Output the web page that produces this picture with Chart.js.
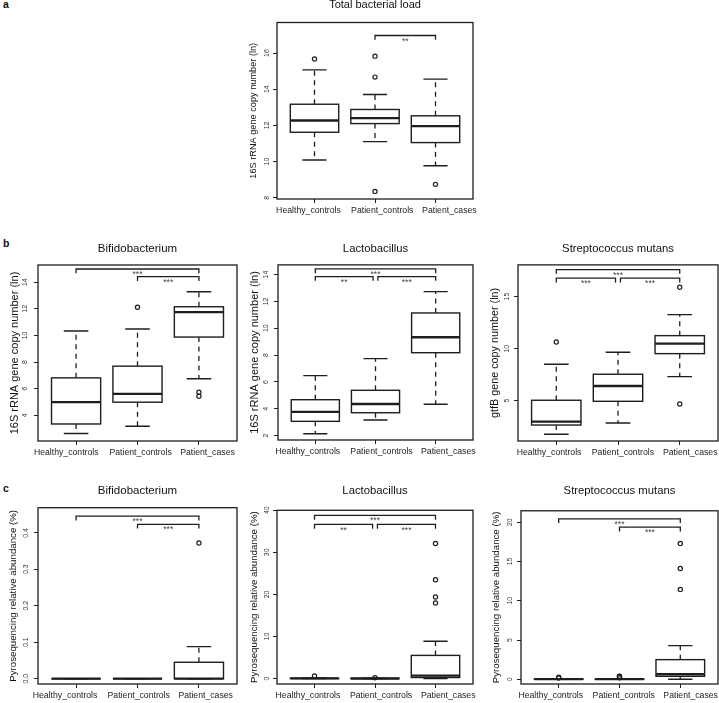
<!DOCTYPE html>
<html><head><meta charset="utf-8">
<script src="https://cdn.jsdelivr.net/npm/chart.js@4.4.1/dist/chart.umd.min.js"></script>
<style>
html,body{margin:0;padding:0;background:#fff;width:719px;height:703px;overflow:hidden;position:relative;font-family:'Liberation Sans',Arial,sans-serif;}
.panel{position:absolute;}
.letter{position:absolute;font-weight:bold;font-size:10.5px;line-height:10.5px;color:#111;}
</style></head><body>
<div class="letter" style="left:3px;top:-1px">a</div>
<div class="letter" style="left:3px;top:238px">b</div>
<div class="letter" style="left:3px;top:483px">c</div>
<script>
const categories = ['Healthy_controls', 'Patient_controls', 'Patient_cases'];

// Each row: [lower whisker, Q1, median, Q3, upper whisker]
const totalLoadBoxes = [[10.09, 11.62, 12.27, 13.17, 15.07], [11.10, 12.10, 12.40, 12.88, 13.71], [9.77, 11.05, 11.96, 12.53, 14.56]];
const totalLoadOutliers = [[15.67], [15.83, 14.67, 8.35], [8.74]];
const totalLoadTicks = [8, 10, 12, 14, 16];
const totalLoadSig = [[2, 3, 16.97, '**']];

const bifidoQpcrBoxes = [[2.62, 3.34, 4.98, 6.81, 10.33], [3.17, 4.98, 5.61, 7.69, 10.48], [6.74, 9.88, 11.76, 12.16, 13.29]];
const bifidoQpcrOutliers = [[], [12.12], [5.43, 5.73]];
const bifidoQpcrTicks = [4, 6, 8, 10, 12, 14];
const bifidoQpcrSig = [[1, 3, 15.0, '***'], [2, 3, 14.42, '***']];

const lactoQpcrBoxes = [[2.15, 3.07, 3.77, 4.68, 6.47], [3.17, 3.71, 4.36, 5.38, 7.74], [4.34, 8.18, 9.33, 11.14, 12.73]];
const lactoQpcrOutliers = [[], [], []];
const lactoQpcrTicks = [2, 4, 6, 8, 10, 12, 14];
const lactoQpcrSig = [[1, 3, 14.42, '***'], [1, 1.96, 13.85, '**'], [2.04, 3, 13.85, '***']];

const strepQpcrBoxes = [[1.77, 2.66, 2.98, 5.04, 8.5], [2.86, 4.94, 6.41, 7.54, 9.65], [7.31, 9.52, 10.48, 11.25, 13.27]];
const strepQpcrOutliers = [[10.64], [], [15.9, 4.68]];
const strepQpcrTicks = [5, 10, 15];
const strepQpcrSig = [[1, 3, 17.6, '***'], [1, 1.96, 16.77, '***'], [2.04, 3, 16.77, '***']];

const bifidoPyroBoxes = [[0, 0, 0, 0, 0], [0, 0, 0, 0, 0], [0, 0, 0, 0.045, 0.088]];
const bifidoPyroOutliers = [[], [], [0.372]];
const bifidoPyroTicks = [0, 0.1, 0.2, 0.3, 0.4];
const bifidoPyroSig = [[1, 3, 0.446, '***'], [2, 3, 0.4235, '***']];

const lactoPyroBoxes = [[0, 0, 0.02, 0.06, 0.15], [0, 0, 0.01, 0.03, 0.08], [0, 0.24, 0.7, 5.5, 8.86]];
const lactoPyroOutliers = [[0.6], [0.2], [32.1, 23.5, 19.4, 17.96]];
const lactoPyroTicks = [0, 10, 20, 30, 40];
const lactoPyroSig = [[1, 3, 38.8, '***'], [1, 1.96, 36.65, '**'], [2.04, 3, 36.65, '***']];

const strepPyroBoxes = [[0, 0, 0.01, 0.03, 0.07], [0, 0, 0.01, 0.03, 0.08], [0, 0.38, 0.64, 2.5, 4.29]];
const strepPyroOutliers = [[0.15, 0.25], [0.2, 0.35, 0.4], [17.3, 14.1, 11.44]];
const strepPyroTicks = [0, 5, 10, 15, 20];
const strepPyroSig = [[1, 3, 20.43, '***'], [2, 3, 19.36, '***']];

const FONT = "'Liberation Sans', Arial, sans-serif";
const INK = '#1e1e1e';
const YW = 40, XTICK = 4, XLAB = 22, PR = 30;
const Y16 = '16S rRNA gene copy number (ln)';
const PYRO = 'Pyrosequencing relative abundance (%)';

const panels = [
  {boxes: totalLoadBoxes, out: totalLoadOutliers, ticks: totalLoadTicks, sig: totalLoadSig, yMin: 7.93, yMax: 17.69,
   L: 277.3, R: 473.3, T: 22.7, B: 199, title: 'Total bacterial load', titleMid: 4.8, titleSize: 11,
   yTitle: Y16, yTitleSize: 9.2, yTitleOff: 24, yTickOff: 10.3, labelPos: [0.90, 2.12, 3.23], dec: 0},
  {boxes: bifidoQpcrBoxes, out: bifidoQpcrOutliers, ticks: bifidoQpcrTicks, sig: bifidoQpcrSig, yMin: 2.06, yMax: 15.30,
   L: 38.3, R: 237.3, T: 265, B: 440.7, title: 'Bifidobacterium', titleMid: 248.9, titleSize: 11.5,
   yTitle: Y16, yTitleSize: 11, yTitleOff: 23.3, yTickOff: 12.5, labelPos: [0.84, 2.05, 3.14], dec: 0},
  {boxes: lactoQpcrBoxes, out: lactoQpcrOutliers, ticks: lactoQpcrTicks, sig: lactoQpcrSig, yMin: 1.68, yMax: 14.72,
   L: 277.7, R: 473, T: 265, B: 440, title: 'Lactobacillus', titleMid: 248.9, titleSize: 11.3,
   yTitle: Y16, yTitleSize: 11, yTitleOff: 23.4, yTickOff: 12, labelPos: [0.876, 2.10, 3.21], dec: 0},
  {boxes: strepQpcrBoxes, out: strepQpcrOutliers, ticks: strepQpcrTicks, sig: strepQpcrSig, yMin: 1.125, yMax: 18.05,
   L: 517.7, R: 717.7, T: 265, B: 441, title: 'Streptococcus mutans', titleMid: 248.9, titleSize: 11.3,
   yTitle: 'gtfB gene copy number (ln)', yTitleSize: 10.8, yTitleOff: 22.7, yTickOff: 11, labelPos: [0.884, 2.08, 3.17], dec: 0},
  {boxes: bifidoPyroBoxes, out: bifidoPyroOutliers, ticks: bifidoPyroTicks, sig: bifidoPyroSig, yMin: -0.0146, yMax: 0.469,
   L: 38.3, R: 237.3, T: 507.3, B: 683.3, title: 'Bifidobacterium', titleMid: 490.5, titleSize: 11.5,
   yTitle: PYRO, yTitleSize: 9.7, yTitleOff: 24.3, yTickOff: 11.6, labelPos: [0.82, 2.02, 3.11], dec: 1},
  {boxes: lactoPyroBoxes, out: lactoPyroOutliers, ticks: lactoPyroTicks, sig: lactoPyroSig, yMin: -1.3, yMax: 40.0,
   L: 277, R: 472.5, T: 510, B: 684, title: 'Lactobacillus', titleMid: 490.5, titleSize: 11.3,
   yTitle: PYRO, yTitleSize: 9.7, yTitleOff: 22.5, yTickOff: 9.6, labelPos: [0.891, 2.10, 3.21], dec: 0},
  {boxes: strepPyroBoxes, out: strepPyroOutliers, ticks: strepPyroTicks, sig: strepPyroSig, yMin: -0.6, yMax: 21.45,
   L: 521, R: 717.7, T: 510.5, B: 684, title: 'Streptococcus mutans', titleMid: 490.5, titleSize: 11.3,
   yTitle: PYRO, yTitleSize: 9.7, yTitleOff: 24.3, yTickOff: 11, labelPos: [0.869, 2.07, 3.17], dec: 0}
];

const measureCtx = document.createElement('canvas').getContext('2d');
const TICK_SIZE = 6.9;

function boxPlugin(cfg) {
  return {
    id: 'boxPlot',
    beforeDatasetsDraw(chart) {
      const {ctx, scales: {x, y}} = chart;
      ctx.save();
      ctx.strokeStyle = INK;
      cfg.boxes.forEach((b, i) => {
        const cx = x.getPixelForValue(i + 1);
        const hw = x.getPixelForValue(i + 1.4) - cx;
        const sw = hw / 2;
        const [lo, q1, med, q3, hi] = b.map(v => y.getPixelForValue(v));
        ctx.lineWidth = 1.3;
        ctx.setLineDash([5, 4.5]);
        ctx.beginPath();
        ctx.moveTo(cx, q3); ctx.lineTo(cx, hi);
        ctx.moveTo(cx, q1); ctx.lineTo(cx, lo);
        ctx.stroke();
        ctx.setLineDash([]);
        ctx.lineWidth = 1.4;
        ctx.beginPath();
        ctx.moveTo(cx - sw, hi); ctx.lineTo(cx + sw, hi);
        ctx.moveTo(cx - sw, lo); ctx.lineTo(cx + sw, lo);
        ctx.stroke();
        ctx.fillStyle = '#fff';
        ctx.fillRect(cx - hw, q3, 2 * hw, q1 - q3);
        ctx.strokeRect(cx - hw, q3, 2 * hw, q1 - q3);
        ctx.lineWidth = 2.3;
        ctx.beginPath();
        ctx.moveTo(cx - hw, med); ctx.lineTo(cx + hw, med);
        ctx.stroke();
      });
      ctx.restore();
    },
    afterDatasetsDraw(chart) {
      const {ctx, chartArea: ca, scales: {x, y}} = chart;
      ctx.save();
      ctx.strokeStyle = INK;
      ctx.lineWidth = 1.3;
      ctx.font = '8.6px ' + FONT;
      ctx.fillStyle = '#444';
      ctx.textAlign = 'center';
      ctx.textBaseline = 'top';
      cfg.sig.forEach(([a, b, v, label]) => {
        const x1 = x.getPixelForValue(a), x2 = x.getPixelForValue(b), py = y.getPixelForValue(v);
        ctx.beginPath();
        ctx.moveTo(x1, py + 4.3); ctx.lineTo(x1, py); ctx.lineTo(x2, py); ctx.lineTo(x2, py + 4.3);
        ctx.stroke();
        ctx.fillText(label, (x1 + x2) / 2, py + 1.5);
      });
      ctx.strokeRect(ca.left, ca.top, ca.right - ca.left, ca.bottom - ca.top);
      ctx.restore();
    }
  };
}

function makePanel(cfg) {
  const div = document.createElement('div');
  div.className = 'panel';
  const canvas = document.createElement('canvas');
  div.appendChild(canvas);
  document.body.appendChild(div);

  const W = cfg.R - cfg.L, H = cfg.B - cfg.T;
  const tlh = cfg.titleSize * 1.2;
  const tpb = cfg.T - cfg.titleMid - tlh / 2;
  const topH = tlh + tpb;
  const cw = Math.round(YW + W + PR), ch = Math.round(topH + H + XTICK + XLAB);
  canvas.width = cw; canvas.height = ch;
  canvas.style.width = cw + 'px'; canvas.style.height = ch + 'px';
  div.style.left = Math.round(cfg.L - YW) + 'px';
  div.style.top = Math.round(cfg.T - topH) + 'px';

  const tickFont = TICK_SIZE + 'px ' + FONT;
  measureCtx.font = tickFont;
  const fmt = v => cfg.dec ? Number(v).toFixed(cfg.dec) : String(v);
  const widest = Math.max(...cfg.ticks.map(v => measureCtx.measureText(fmt(v)).width));
  const tickPad = cfg.yTickOff - 4 - widest / 2;
  const ylh = cfg.yTitleSize * 1.2;
  const yTitlePad = YW - cfg.yTitleOff - ylh / 2;

  const points = [];
  cfg.out.forEach((arr, i) => arr.forEach(v => points.push({x: i + 1, y: v})));

  const chart = new Chart(canvas, {
    type: 'scatter',
    data: {datasets: [{data: points, pointRadius: 2.1, pointHoverRadius: 2.1, pointStyle: 'circle',
      backgroundColor: 'rgba(255,255,255,0)', borderColor: INK, borderWidth: 1.2}]},
    options: {
      responsive: false, maintainAspectRatio: false, animation: false, devicePixelRatio: 1, events: [],
      layout: {padding: {left: 0, top: 0, right: PR, bottom: 0}},
      plugins: {
        legend: {display: false}, tooltip: {enabled: false},
        title: {display: true, text: cfg.title, fullSize: false, color: '#111',
          font: {family: FONT, size: cfg.titleSize, weight: 'normal', lineHeight: 1.2}, padding: {top: 0, bottom: tpb}}
      },
      scales: {
        x: {type: 'linear', position: 'bottom', min: 0.38, max: 3.62,
          afterBuildTicks: s => { s.ticks = categories.map((c, i) => ({value: i + 1})); },
          afterFit: s => { s.height = XTICK; },
          ticks: {display: false},
          grid: {display: true, drawOnChartArea: false, drawTicks: true, tickLength: 4, color: INK, lineWidth: 1},
          border: {display: false}},
        xl: {type: 'linear', position: 'bottom', min: 0.38, max: 3.62,
          afterBuildTicks: s => { s.ticks = cfg.labelPos.map(v => ({value: v})); },
          afterFit: s => { s.height = XLAB; },
          ticks: {autoSkip: false, minRotation: 0, maxRotation: 0, padding: 2.5, color: '#222',
            font: {family: FONT, size: 8.7}, callback: (v, i) => categories[i]},
          grid: {display: false, drawTicks: false},
          border: {display: false}},
        y: {type: 'linear', position: 'left', min: cfg.yMin, max: cfg.yMax,
          afterBuildTicks: s => { s.ticks = cfg.ticks.map(v => ({value: v})); },
          afterFit: s => { s.width = YW; },
          ticks: {autoSkip: false, minRotation: 90, maxRotation: 90, crossAlign: 'center', padding: tickPad,
            color: '#333', font: {family: FONT, size: TICK_SIZE}, callback: v => fmt(v)},
          grid: {display: true, drawOnChartArea: false, drawTicks: true, tickLength: 4, color: INK, lineWidth: 1},
          border: {display: false},
          title: {display: true, text: cfg.yTitle, color: '#111', font: {family: FONT, size: cfg.yTitleSize, lineHeight: 1.2},
            padding: {top: yTitlePad, bottom: 0}}}
      }
    },
    plugins: [boxPlugin(cfg)]
  });

  let ca = chart.chartArea;
  const dw = W - (ca.right - ca.left), dh = H - (ca.bottom - ca.top);
  if (Math.abs(dw) > 0.6 || Math.abs(dh) > 0.6) {
    chart.resize(Math.round(cw + dw), Math.round(ch + dh));
    ca = chart.chartArea;
  }
  div.style.left = Math.round(cfg.L - ca.left) + 'px';
  div.style.top = Math.round(cfg.T - ca.top) + 'px';
}

panels.forEach(makePanel);
</script>
</body></html>
